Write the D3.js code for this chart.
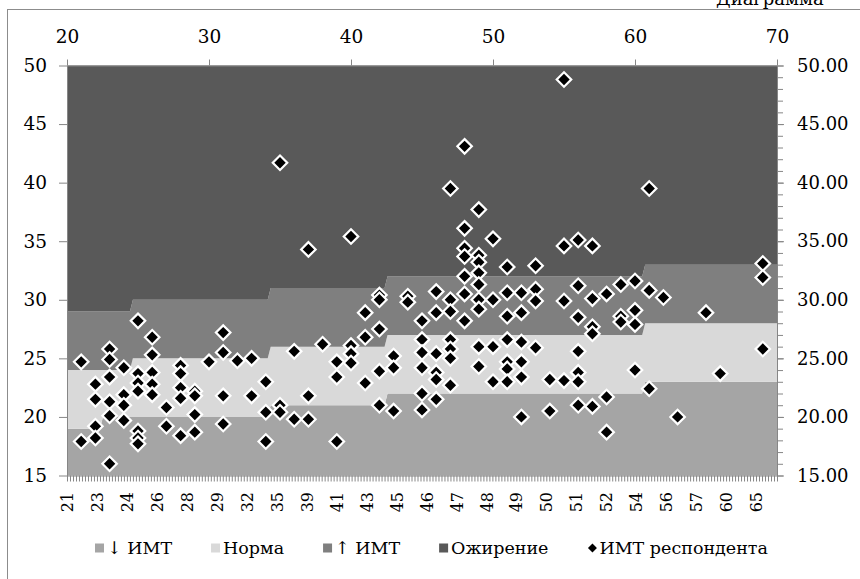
<!DOCTYPE html>
<html>
<head>
<meta charset="utf-8">
<script src="https://cdn.jsdelivr.net/npm/d3@7"></script>
<style>
  body { margin: 0; background: #fff; }
  svg { display: block; }
  text { font-family: "DejaVu Serif", serif; fill: #000; }
</style>
</head>
<body>
<svg id="chart" width="860" height="579"></svg>
<script>
// respondents sorted by age -> category axis
var nCat = 238;
var catLabels = [21, 23, 24, 26, 28, 29, 32, 35, 39, 41, 43, 45, 46, 47, 48, 49, 50, 51, 52, 54, 56, 57, 60, 65];

// age-group norm bands: category where a step starts, and the BMI edge value
var lowStepAt = [0, 12, 68, 107, 193];
var lowStepVal = [19, 20, 21, 22, 23];
var normStepAt = [0, 22, 68, 107, 193];
var normStepVal = [24, 25, 26, 27, 28];
var overStepAt = [0, 22, 68, 107, 193];
var overStepVal = [29, 30, 31, 32, 33];

// respondent BMI by age (secondary axes)
var respAge = [
  21, 21,
  22, 22, 22, 22,
  23, 23, 23, 23, 23, 23,
  24, 24, 24, 24,
  25, 25, 25, 25, 25, 25, 25,
  26, 26, 26, 26, 26,
  27, 27,
  28, 28, 28, 28, 28,
  29, 29, 29, 29,
  30,
  31, 31, 31, 31,
  32,
  33, 33,
  34, 34, 34,
  35, 35, 35,
  36, 36,
  37, 37, 37,
  38,
  39, 39, 39,
  40, 40, 40, 40,
  41, 41, 41,
  42, 42, 42, 42, 42,
  43, 43, 43,
  44, 44,
  45, 45, 45, 45, 45, 45,
  46, 46, 46, 46, 46, 46,
  47, 47, 47, 47, 47, 47, 47,
  48, 48, 48, 48, 48, 48, 48,
  49, 49, 49, 49, 49, 49, 49, 49, 49,
  50, 50, 50, 50,
  51, 51, 51, 51, 51, 51, 51,
  52, 52, 52, 52, 52, 52,
  53, 53, 53, 53,
  54, 54,
  55, 55, 55, 55,
  56, 56, 56, 56, 56, 56, 56,
  57, 57, 57, 57, 57,
  58, 58, 58,
  59, 59, 59,
  60, 60, 60, 60,
  61, 61, 61,
  62, 63, 65, 66,
  69, 69, 69
];
var respBmi = [
  24.7, 17.9,
  22.8, 21.5, 19.2, 18.2,
  25.8, 24.9, 23.4, 21.3, 20.1, 16.0,
  24.2, 21.9, 21.0, 19.7,
  28.2, 23.7, 22.9, 22.2, 18.8, 18.2, 17.7,
  26.8, 25.3, 23.8, 22.8, 21.9,
  20.8, 19.2,
  24.4, 23.7, 22.5, 21.6, 18.4,
  22.2, 21.8, 20.2, 18.7,
  24.7,
  27.2, 25.5, 21.8, 19.4,
  24.8,
  25.0, 21.8,
  23.0, 20.4, 17.9,
  41.7, 21.0, 20.4,
  25.6, 19.8,
  34.3, 21.8, 19.8,
  26.2,
  24.7, 23.4, 17.9,
  35.4, 26.1, 25.4, 24.6,
  28.9, 26.8, 22.9,
  30.4, 30.0, 27.5, 23.9, 21.0,
  25.2, 24.2, 20.5,
  30.3, 29.8,
  28.2, 26.6, 25.5, 24.2, 22.0, 20.6,
  30.7, 28.9, 25.4, 23.8, 23.2, 21.5,
  39.5, 30.0, 29.0, 26.6, 25.8, 25.0, 22.7,
  43.1, 36.1, 34.4, 33.7, 32.0, 30.5, 28.2,
  37.7, 33.8, 33.2, 32.3, 31.3, 30.0, 29.2, 26.0, 24.3,
  35.2, 30.0, 26.0, 23.0,
  32.8, 30.6, 28.6, 26.6, 24.7, 24.1, 23.0,
  30.6, 28.9, 26.4, 24.7, 23.4, 20.0,
  32.9, 30.9, 29.9, 25.9,
  23.2, 20.5,
  48.8, 34.6, 29.9, 23.1,
  35.1, 31.2, 28.5, 25.6, 23.8, 23.0, 21.0,
  34.6, 30.1, 27.7, 27.1, 20.9,
  30.5, 21.7, 18.7,
  31.3, 28.6, 28.1,
  31.6, 29.1, 27.9, 24.0,
  39.5, 30.8, 22.4,
  30.2, 20.0, 28.9, 23.7,
  33.1, 31.9, 25.8
];

var bandNames = ["↓ ИМТ", "Норма", "↑ ИМТ", "Ожирение"];
var bandColors = ["#a5a5a5", "#d9d9d9", "#7f7f7f", "#595959"];
var pointName = "ИМТ респондента";

var svg = d3.select("#chart");
var plotL = 67, plotR = 777, plotT = 65.5, plotB = 475.5;

var xCat = d3.scaleLinear().domain([0, nCat - 1]).range([plotL, plotR]);
var xAge = d3.scaleLinear().domain([20, 70]).range([plotL, plotR]);
var y = d3.scaleLinear().domain([15, 50]).range([plotB, plotT]);

// frame and the cut-off caption above it
svg.append("rect").attr("x", 7.5).attr("y", 9.5).attr("width", 900).attr("height", 600)
  .attr("fill", "none").attr("stroke", "#8c8c8c");
svg.append("text").attr("x", 716).attr("y", 5).attr("font-size", 18).text("Диаграмма");

// expand step table to a value per category
function stepSeries(at, val) {
  return d3.range(nCat).map(function(i) { return val[d3.bisectRight(at, i) - 1]; });
}
var lowTop = stepSeries(lowStepAt, lowStepVal);
var normTop = stepSeries(normStepAt, normStepVal);
var overTop = stepSeries(overStepAt, overStepVal);
var edges = [
  d3.range(nCat).map(function() { return 15; }),
  lowTop, normTop, overTop,
  d3.range(nCat).map(function() { return 50; })
];

var area = function(k) {
  return d3.area()
    .x(function(i) { return xCat(i); })
    .y0(function(i) { return y(edges[k][i]); })
    .y1(function(i) { return y(edges[k + 1][i]); });
};
svg.append("g").selectAll("path")
  .data(bandNames)
  .enter().append("path")
  .attr("d", function(d, k) { return area(k)(d3.range(nCat)); })
  .attr("fill", function(d, k) { return bandColors[k]; });

// axes
var axisColor = "#868686";
var gTop = svg.append("g").attr("transform", "translate(0," + plotT + ")")
  .call(d3.axisTop(xAge).tickValues(d3.range(20, 71, 10)).tickSizeInner(6).tickSizeOuter(0).tickPadding(16.5));
var gLeft = svg.append("g").attr("transform", "translate(" + plotL + ",0)")
  .call(d3.axisLeft(y).tickValues(d3.range(15, 51, 5)).tickSizeInner(8).tickSizeOuter(0).tickPadding(12));
var gRightMinor = svg.append("g").attr("transform", "translate(" + plotR + ",0)")
  .call(d3.axisRight(y).tickValues(d3.range(15, 51, 1)).tickSizeInner(6).tickSizeOuter(0).tickFormat(""));
var gRight = svg.append("g").attr("transform", "translate(" + plotR + ",0)")
  .call(d3.axisRight(y).tickValues(d3.range(15, 51, 5)).tickSizeInner(7).tickSizeOuter(0)
    .tickPadding(13).tickFormat(d3.format(".2f")));
var gBottom = svg.append("g").attr("transform", "translate(0," + plotB + ")")
  .call(d3.axisBottom(xCat).tickValues(d3.range(nCat)).tickSizeInner(6).tickSizeOuter(0)
    .tickFormat(function(i) { return i % 10 === 0 ? catLabels[i / 10] : ""; }));

gBottom.selectAll("text")
  .attr("transform", "rotate(-90)")
  .attr("x", -16.5).attr("y", 0).attr("dy", "0.35em")
  .attr("text-anchor", "end");

[gTop, gLeft, gRight, gRightMinor, gBottom].forEach(function(g) {
  g.attr("font-family", null);
  g.selectAll("path, line").attr("stroke", axisColor);
  g.selectAll("text").attr("fill", "#000");
});
gTop.selectAll("text").attr("font-size", 18.5);
gLeft.selectAll("text").attr("font-size", 18.5);
gRight.selectAll("text").attr("font-size", 18);
gBottom.selectAll("text").attr("font-size", 16);

// respondents
var diamond = d3.symbol().type(d3.symbolSquare).size(105);
svg.append("g").selectAll("path")
  .data(respAge)
  .enter().append("path")
  .attr("d", diamond)
  .attr("transform", function(d, i) {
    return "translate(" + xAge(d) + "," + y(respBmi[i]) + ") rotate(45)";
  })
  .attr("fill", "#000").attr("stroke", "#fff").attr("stroke-width", 2.2);

// legend, spread across the width like the original
var legendY = 548, legendL = 95, legendR = 768, keyW = 12;
var legend = svg.append("g").attr("font-size", 17.5);
var items = bandNames.concat([pointName]);
var labels = items.map(function(name) {
  return legend.append("text").attr("y", legendY).attr("dy", "0.35em").text(name);
});
var widths = labels.map(function(t) { return t.node().getComputedTextLength(); });
var gap = (legendR - legendL - d3.sum(widths) - keyW * items.length) / (items.length - 1);
var cx = legendL;
items.forEach(function(name, k) {
  if (k < bandNames.length) {
    legend.append("rect").attr("x", cx).attr("y", legendY - 4.5).attr("width", 9).attr("height", 9)
      .attr("fill", bandColors[k]);
  } else {
    legend.append("path").attr("d", d3.symbol().type(d3.symbolSquare).size(40))
      .attr("transform", "translate(" + (cx + 5) + "," + legendY + ") rotate(45)").attr("fill", "#000");
  }
  labels[k].attr("x", cx + keyW);
  cx += keyW + widths[k] + gap;
});
</script>
</body>
</html>
